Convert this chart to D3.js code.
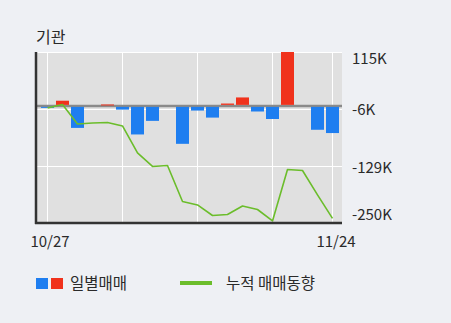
<!DOCTYPE html>
<html><head><meta charset="utf-8">
<script src="https://cdn.jsdelivr.net/npm/d3@7"></script>
<style>
html,body{margin:0;padding:0;background:#eef0f4;}
svg{display:block;}
text{font-family:"Noto Sans CJK KR","Noto Sans",sans-serif;fill:#2a2a2a;}
</style></head>
<body>
<script>
// ---- data ----
const dates = ["10/27","10/28","10/29","10/30","10/31","11/03","11/04","11/05","11/06","11/07",
               "11/10","11/11","11/12","11/13","11/14","11/17","11/18","11/19","11/20","11/24"];
const daily = [-3, 11, -47, 0, 3, -8, -61, -32, 0, -81, -10, -25, 5, 18, -12, -28, 115, 0, -51, -58]; // K
const cumulative = [-4.5, 3, -38.6, -36.5, -35.4, -42.9, -100.5, -129.3, -127.2, -204, -211.5, -234, -231.8, -213.7, -221.2, -245.7, -135.7, -137.9, -190, -240]; // K
const yTicks = [115, -6, -129, -250];
const yTickLabels = ["115K", "-6K", "-129K", "-250K"];
const xGridDates = ["10/27","11/03","11/10","11/17","11/24"];
const xTickDates = ["10/27","11/24"];
const title = "기관";
const legendDaily = "일별매매";
const legendCum = "누적 매매동향";

const W = 451, H = 323;
const L = 36, R = 342, T = 52, B = 223;
const blue = "#1e7ef0", red = "#f0321c", green = "#6bbd2b";

const svg = d3.select("body").append("svg").attr("width", W).attr("height", H);

const x = d3.scalePoint().domain(dates).range([47.5, 332.5]);
const y = d3.scaleLinear().domain([-250, 115]).range([B, T]);

// plot background
svg.append("rect").attr("x", L).attr("y", T).attr("width", R - L).attr("height", B - T).attr("fill", "#e0e0e0");

// grid
svg.append("g").selectAll("line").data(yTicks).join("line")
  .attr("x1", L).attr("x2", R)
  .attr("y1", d => Math.round(y(d)) + 0.5).attr("y2", d => Math.round(y(d)) + 0.5)
  .attr("stroke", "#fff").attr("stroke-width", 1);
svg.append("g").selectAll("line").data(xGridDates).join("line")
  .attr("x1", d => Math.round(x(d)) - 0.5).attr("x2", d => Math.round(x(d)) - 0.5)
  .attr("y1", T).attr("y2", B)
  .attr("stroke", "#fff").attr("stroke-width", 1);

// zero line
svg.append("line").attr("x1", L).attr("x2", R).attr("y1", y(0)).attr("y2", y(0))
  .attr("stroke", "#8a8a8a").attr("stroke-width", 2.5);

// bars
const bw = 13;
svg.append("g").selectAll("rect").data(daily.map((v, i) => ({d: dates[i], v})).filter(o => o.v !== 0)).join("rect")
  .attr("x", o => x(o.d) - bw / 2)
  .attr("width", bw)
  .attr("y", o => o.v > 0 ? y(o.v) : y(0) + 1)
  .attr("height", o => Math.max(1, Math.abs(y(o.v) - y(0)) - 1))
  .attr("fill", o => o.v > 0 ? red : blue);

// cumulative line
const line = d3.line().x((v, i) => x(dates[i])).y(v => y(v));
svg.append("path").datum(cumulative).attr("d", line)
  .attr("fill", "none").attr("stroke", green).attr("stroke-width", 1.6).attr("stroke-linejoin", "round");

// axes lines
svg.append("line").attr("x1", L).attr("x2", L).attr("y1", T).attr("y2", B + 1)
  .attr("stroke", "#333").attr("stroke-width", 2.5);
svg.append("line").attr("x1", L - 1).attr("x2", R).attr("y1", B).attr("y2", B)
  .attr("stroke", "#333").attr("stroke-width", 2.5);

// right labels
svg.append("g").selectAll("text").data(yTicks).join("text")
  .attr("x", 352)
  .attr("y", d => Math.min(Math.max(y(d) + 1, 59), 215))
  .attr("dy", "0.35em")
  .attr("font-size", 15)
  .text((d, i) => yTickLabels[i]);

// x labels
svg.append("g").selectAll("text").data(xTickDates).join("text")
  .attr("x", (d, i) => i === 0 ? 50 : 336)
  .attr("y", 242)
  .attr("dy", "0.35em")
  .attr("text-anchor", "middle")
  .attr("font-size", 15)
  .text(d => d);

// title
svg.append("text").attr("x", 36).attr("y", 37).attr("dy", "0.35em").attr("font-size", 16).text(title);

// legend
svg.append("rect").attr("x", 36).attr("y", 278).attr("width", 12).attr("height", 11).attr("fill", blue);
svg.append("rect").attr("x", 51).attr("y", 278).attr("width", 12).attr("height", 11).attr("fill", red);
svg.append("text").attr("x", 70).attr("y", 283.5).attr("dy", "0.35em").attr("font-size", 15.5).text(legendDaily);
svg.append("line").attr("x1", 180).attr("x2", 212).attr("y1", 283).attr("y2", 283).attr("stroke", green).attr("stroke-width", 4);
svg.append("text").attr("x", 226).attr("y", 283.5).attr("dy", "0.35em").attr("font-size", 15.5).text(legendCum);
</script>
</body></html>
